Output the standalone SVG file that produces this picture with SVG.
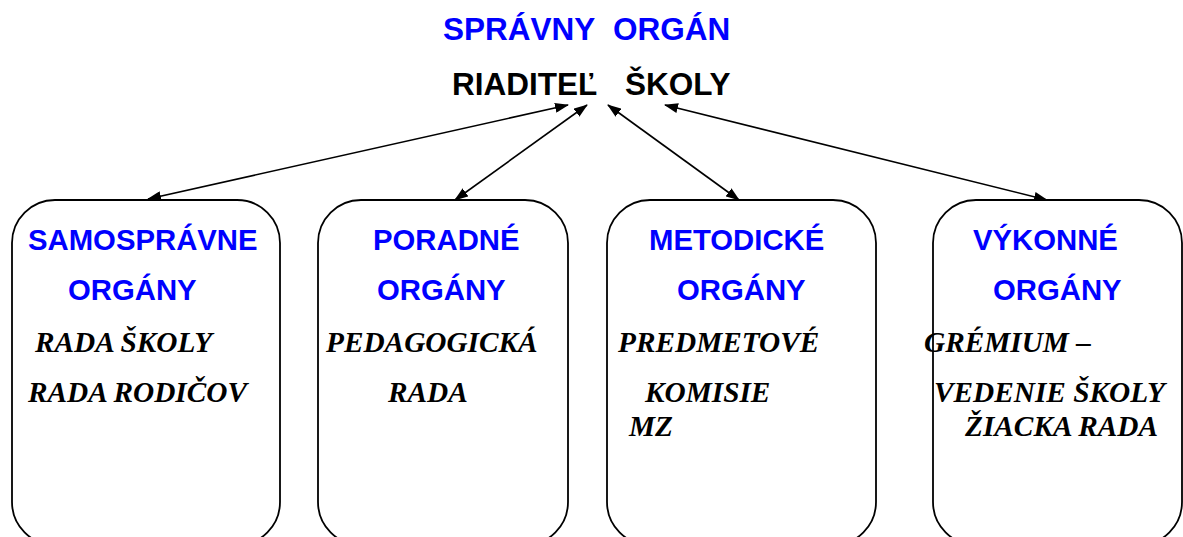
<svg xmlns="http://www.w3.org/2000/svg" width="1183" height="537" viewBox="0 0 1183 537">
<style>
.box{fill:#fff;stroke:#000;stroke-width:1.8}
.ttl{font-family:"Liberation Sans",Arial,sans-serif;font-weight:bold;font-size:29.3px;fill:#0000FF}
.top{font-family:"Liberation Sans",Arial,sans-serif;font-weight:bold;font-size:31.5px}
.it{font-family:"Liberation Serif","Times New Roman",serif;font-weight:bold;font-style:italic;font-size:29.3px;fill:#000}
.con{stroke:#000;stroke-width:1.6;fill:none;marker-start:url(#ah);marker-end:url(#ah)}
</style>
<defs>
<marker id="ah" viewBox="0 0 14 10" refX="13" refY="5" markerWidth="14" markerHeight="10" markerUnits="userSpaceOnUse" orient="auto-start-reverse">
<path d="M0,0 L14,5 L0,10 z" fill="#000"/>
</marker>
</defs>
<rect width="1183" height="537" fill="#fff"/>
<g id="spravny-organ">
<text class="top" x="443" y="40" fill="#0000FF">SPRÁVNY</text>
<text class="top" x="613" y="40" fill="#0000FF">ORGÁN</text>
<text class="top" x="452" y="95" fill="#000">RIADITEĽ</text>
<text class="top" x="625" y="95" fill="#000">ŠKOLY</text>
</g>
<g id="connectors">
<line class="con" x1="148" y1="199" x2="568" y2="105"/>
<line class="con" x1="455" y1="200" x2="587" y2="105"/>
<line class="con" x1="739" y1="200" x2="608" y2="105"/>
<line class="con" x1="1047" y1="200" x2="665" y2="105"/>
</g>
<g id="samospravne">
<rect class="box" x="12" y="200" width="268" height="345" rx="43" ry="43"/>
<text class="ttl" x="28" y="250">SAMOSPRÁVNE</text>
<text class="ttl" x="68" y="300">ORGÁNY</text>
<text class="it" x="35" y="352">RADA ŠKOLY</text>
<text class="it" x="28" y="402">RADA RODIČOV</text>
</g>
<g id="poradne">
<rect class="box" x="318" y="200" width="250" height="345" rx="43" ry="43"/>
<text class="ttl" x="373" y="250">PORADNÉ</text>
<text class="ttl" x="377" y="300">ORGÁNY</text>
<text class="it" x="326" y="352">PEDAGOGICKÁ</text>
<text class="it" x="388" y="402">RADA</text>
</g>
<g id="metodicke">
<rect class="box" x="607" y="200" width="269" height="345" rx="43" ry="43"/>
<text class="ttl" x="649" y="250">METODICKÉ</text>
<text class="ttl" x="677" y="300">ORGÁNY</text>
<text class="it" x="618" y="352">PREDMETOVÉ</text>
<text class="it" x="645" y="402">KOMISIE</text>
<text class="it" x="629" y="436">MZ</text>
</g>
<g id="vykonne">
<rect class="box" x="933" y="200" width="249" height="345" rx="43" ry="43"/>
<text class="ttl" x="973" y="250">VÝKONNÉ</text>
<text class="ttl" x="993" y="300">ORGÁNY</text>
<text class="it" x="924" y="352">GRÉMIUM –</text>
<text class="it" x="934" y="402">VEDENIE ŠKOLY</text>
<text class="it" x="965" y="436">ŽIACKA RADA</text>
</g>
</svg>
